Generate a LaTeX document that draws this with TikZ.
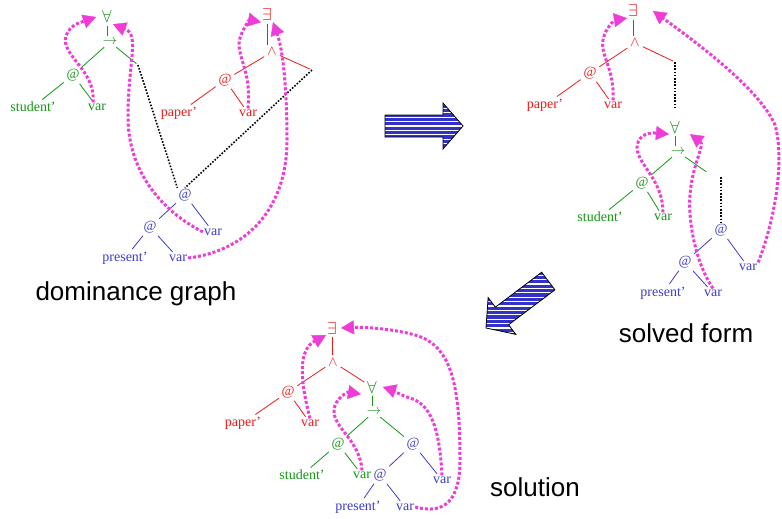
\documentclass[tikz,border=0pt]{standalone}
\usepackage{fontspec}
\setmainfont{Liberation Serif}
\newfontfamily\captionfont{Liberation Sans}
\usepackage{tikz}
\usetikzlibrary{arrows.meta}
\definecolor{tgreen}{RGB}{20,150,20}
\definecolor{tred}{RGB}{240,25,25}
\definecolor{tblue}{RGB}{60,60,205}
\definecolor{bindpink}{RGB}{240,60,215}
\definecolor{arrowblue}{RGB}{50,50,200}
\tikzset{lab/.style = {inner sep=1pt, font=\fontsize{14}{16}\selectfont}}
\tikzset{quant/.style = {font=\fontsize{17}{19}\selectfont}}
\tikzset{gn/.style = {lab, text=tgreen}}
\tikzset{rn/.style = {lab, text=tred}}
\tikzset{bn/.style = {lab, text=tblue}}
\tikzset{tl/.style = {line width=0.8pt, shorten <=2pt, shorten >=2pt}}
\tikzset{gl/.style = {tl, draw=tgreen}}
\tikzset{rl/.style = {tl, draw=tred}}
\tikzset{bl/.style = {tl, draw=tblue}}
\tikzset{dom/.style = {draw=black, line width=1.6pt, dash pattern=on 1.6pt off 1.6pt}}
\tikzset{bind/.style = {draw=bindpink, line width=3pt, dash pattern=on 3pt off 2pt,
  -{Triangle[length=13pt,width=14pt,line width=0.4pt]}}}
\tikzset{caption/.style = {inner sep=0pt, font=\captionfont\fontsize{26}{30}\selectfont}}
\tikzset{stripe/.style = {white, line width=1.1pt}}
\newcommand{\arrowpath}{(0,0) -- (-20,23) -- (-20,11) -- (-78,11) -- (-78,-11) -- (-20,-11) -- (-20,-23) -- cycle}
% striped block arrow: tip x, tip y, direction
\newcommand{\fatarrow}[3]{%
  \begin{scope}
    \fill[arrowblue,shift={(#1,#2)},rotate=#3] \arrowpath;
    \clip[shift={(#1,#2)},rotate=#3] \arrowpath;
    \foreach \k in {-20,...,20}
      \draw[stripe] (#1-100,#2+4.4*\k) -- (#1+100,#2+4.4*\k);
  \end{scope}
  \draw[black,line width=0.8pt,shift={(#1,#2)},rotate=#3] \arrowpath;}

\begin{document}
\begin{tikzpicture}[x=1pt,y=-1pt]
\fill[white] (0,0) rectangle (782,519);
\useasboundingbox (0,0) rectangle (782,519);

% dominance graph
\node[gn,quant] (fa) at (107,17) {$\forall$};
\node[gn] (im) at (110,42) {$\rightarrow$};
\draw[gl] (fa) -- (fa |- im.north);
\node[gn] (ga) at (73,75) {@};
\draw[gl] (im) -- (ga);
\coordinate (gh) at (138,65);
\draw[gl] (im) -- (gh);
\node[gn] (gs) at (33,107) {student'};
\draw[gl] (ga) -- (gs);
\node[gn] (gv) at (97,107) {var};
\draw[gl] (ga) -- (gv);

\node[rn,quant] (ex) at (267,15) {$\exists$};
\node[rn] (an) at (272,52) {$\wedge$};
\draw[rl] (ex) -- (ex |- an.north);
\node[rn] (ra) at (225,80) {@};
\draw[rl] (an) -- (ra);
\coordinate (rh) at (312,70);
\draw[rl] (an) -- (rh);
\node[rn] (rp) at (179,113) {paper'};
\draw[rl] (ra) -- (rp);
\node[rn] (rv) at (248,113) {var};
\draw[rl] (ra) -- (rv);

\node[bn] (ba) at (185,195) {@};
\node[bn] (bv) at (213,232) {var};
\draw[bl] (ba) -- (bv);
\node[bn] (bb) at (150,227) {@};
\draw[bl] (ba) -- (bb);
\node[bn] (bp) at (125,258) {present'};
\draw[bl] (bb) -- (bp);
\node[bn] (bw) at (178,258) {var};
\draw[bl] (bb) -- (bw);

\draw[dom] (gh) -- (ba.north west);
\draw[dom] (rh) -- (ba.north);

\draw[bind] ([xshift=-4pt]gv.north) .. controls (96,70) and (60,55) .. (66,36)
  .. controls (70,24) and (82,22) .. ([xshift=-5pt]fa.west);
\draw[bind] (bv.west) .. controls (160,210) and (128,170) .. (128,117)
  .. controls (128,62) and (140,35) .. (fa.south east);
\draw[bind] (rv.north) .. controls (252,70) and (235,55) .. (240,38)
  .. controls (243,28) and (250,20) .. (ex.south west);
\draw[bind] (bw.east) .. controls (240,252) and (287,215) .. (287,140)
  .. controls (287,90) and (283,50) .. (ex.south east);

\node[caption] (dg) at (136,294) {dominance graph};

% solved form
\node[rn,quant] (ex2) at (633,11) {$\exists$};
\node[rn] (an2) at (635,43) {$\wedge$};
\draw[rl] (ex2) -- (ex2 |- an2.north);
\node[rn] (ra2) at (590,73) {@};
\draw[rl] (an2) -- (ra2);
\coordinate (rh2) at (675,62);
\draw[rl] (an2) -- (rh2);
\node[rn] (rp2) at (545,105) {paper'};
\draw[rl] (ra2) -- (rp2);
\node[rn] (rv2) at (613,105) {var};
\draw[rl] (ra2) -- (rv2);

\node[gn,quant] (fa2) at (675,127) {$\forall$};
\node[gn] (im2) at (678,152) {$\rightarrow$};
\draw[gl] (fa2) -- (fa2 |- im2.north);
\node[gn] (ga2) at (642,183) {@};
\draw[gl] (im2) -- (ga2);
\coordinate (gh2) at (708,173);
\draw[gl] (im2) -- (gh2);
\node[gn] (gs2) at (600,217) {student'};
\draw[gl] (ga2) -- (gs2);
\node[gn] (gv2) at (663,217) {var};
\draw[gl] (ga2) -- (gv2);

\node[bn] (ba2) at (721,230) {@};
\node[bn] (bv2) at (748,267) {var};
\draw[bl] (ba2) -- (bv2);
\node[bn] (bb2) at (685,262) {@};
\draw[bl] (ba2) -- (bb2);
\node[bn] (bp2) at (663,293) {present'};
\draw[bl] (bb2) -- (bp2);
\node[bn] (bw2) at (713,293) {var};
\draw[bl] (bb2) -- (bw2);

\draw[dom, shorten >=10pt] (rh2) -- (fa2.north);
\draw[dom, shorten <=4pt] (ba2.north |- gh2) -- (ba2.north);

\draw[bind] (rv2.north) .. controls (615,70) and (600,55) .. (603,40)
  .. controls (605,28) and (615,20) .. (ex2.south west);
\draw[bind] (gv2.north) .. controls (663,180) and (638,165) .. (637,148)
  .. controls (637,138) and (645,132) .. (fa2.south west);
\draw[bind] (bw2.north) .. controls (695,262) and (688,220) .. (690,195)
  .. controls (692,165) and (705,145) .. ([xshift=9pt]fa2.south east);
\draw[bind] (bv2.north east) .. controls (775,220) and (785,160) .. (775,125)
  .. controls (760,90) and (700,45) .. ([xshift=14pt]ex2.east);

\node[caption] (sf) at (686,333) {solved form};

% solution
\node[rn,quant] (ex3) at (332,328) {$\exists$};
\node[rn] (an3) at (333,362) {$\wedge$};
\draw[rl] (ex3) -- (ex3 |- an3.north);
\node[rn] (ra3) at (288,392) {@};
\draw[rl] (an3) -- (ra3);
\node[rn] (rp3) at (243,423) {paper'};
\draw[rl] (ra3) -- (rp3);
\node[rn] (rv3) at (310,423) {var};
\draw[rl] (ra3) -- (rv3);

\node[gn,quant] (fa3) at (372,387) {$\forall$};
\draw[rl] (an3) -- (fa3);
\node[gn] (im3) at (374,412) {$\rightarrow$};
\draw[gl] (fa3) -- (fa3 |- im3.north);
\node[gn] (ga3) at (338,444) {@};
\draw[gl] (im3) -- (ga3);
\node[gn] (gs3) at (302,475) {student'};
\draw[gl] (ga3) -- (gs3);
\node[gn] (gv3) at (362,475) {var};
\draw[gl] (ga3) -- (gv3);

\node[bn] (ba3) at (413,444) {@};
\draw[gl] (im3) -- (ba3);
\node[bn] (bv3) at (442,480) {var};
\draw[bl] (ba3) -- (bv3);
\node[bn] (bb3) at (380,475) {@};
\draw[bl] (ba3) -- (bb3);
\node[bn] (bp3) at (358,507) {present'};
\draw[bl] (bb3) -- (bp3);
\node[bn] (bw3) at (405,507) {var};
\draw[bl] (bb3) -- (bw3);

\draw[bind] (rv3.north) .. controls (300,380) and (298,350) .. (ex3.south west);
\draw[bind] (gv3.north) .. controls (360,440) and (333,428) .. (334,410)
  .. controls (335,398) and (348,392) .. ([xshift=-5pt]fa3.south west);
\draw[bind] (bv3.north) .. controls (440,440) and (435,405) .. (410,398)
  .. controls (400,395) and (392,390) .. ([xshift=5pt]fa3.east);
\draw[bind] (bw3.east) .. controls (445,515) and (460,500) .. (460,460)
  .. controls (460,380) and (450,345) .. (415,335)
  .. controls (390,328) and (360,327) .. ([xshift=3pt]ex3.east);

\node[caption] (so) at (535,487) {solution};

% block arrows between the stages
\fatarrow{463}{126}{0}
\fatarrow{486}{328}{217}
\end{tikzpicture}
\end{document}
